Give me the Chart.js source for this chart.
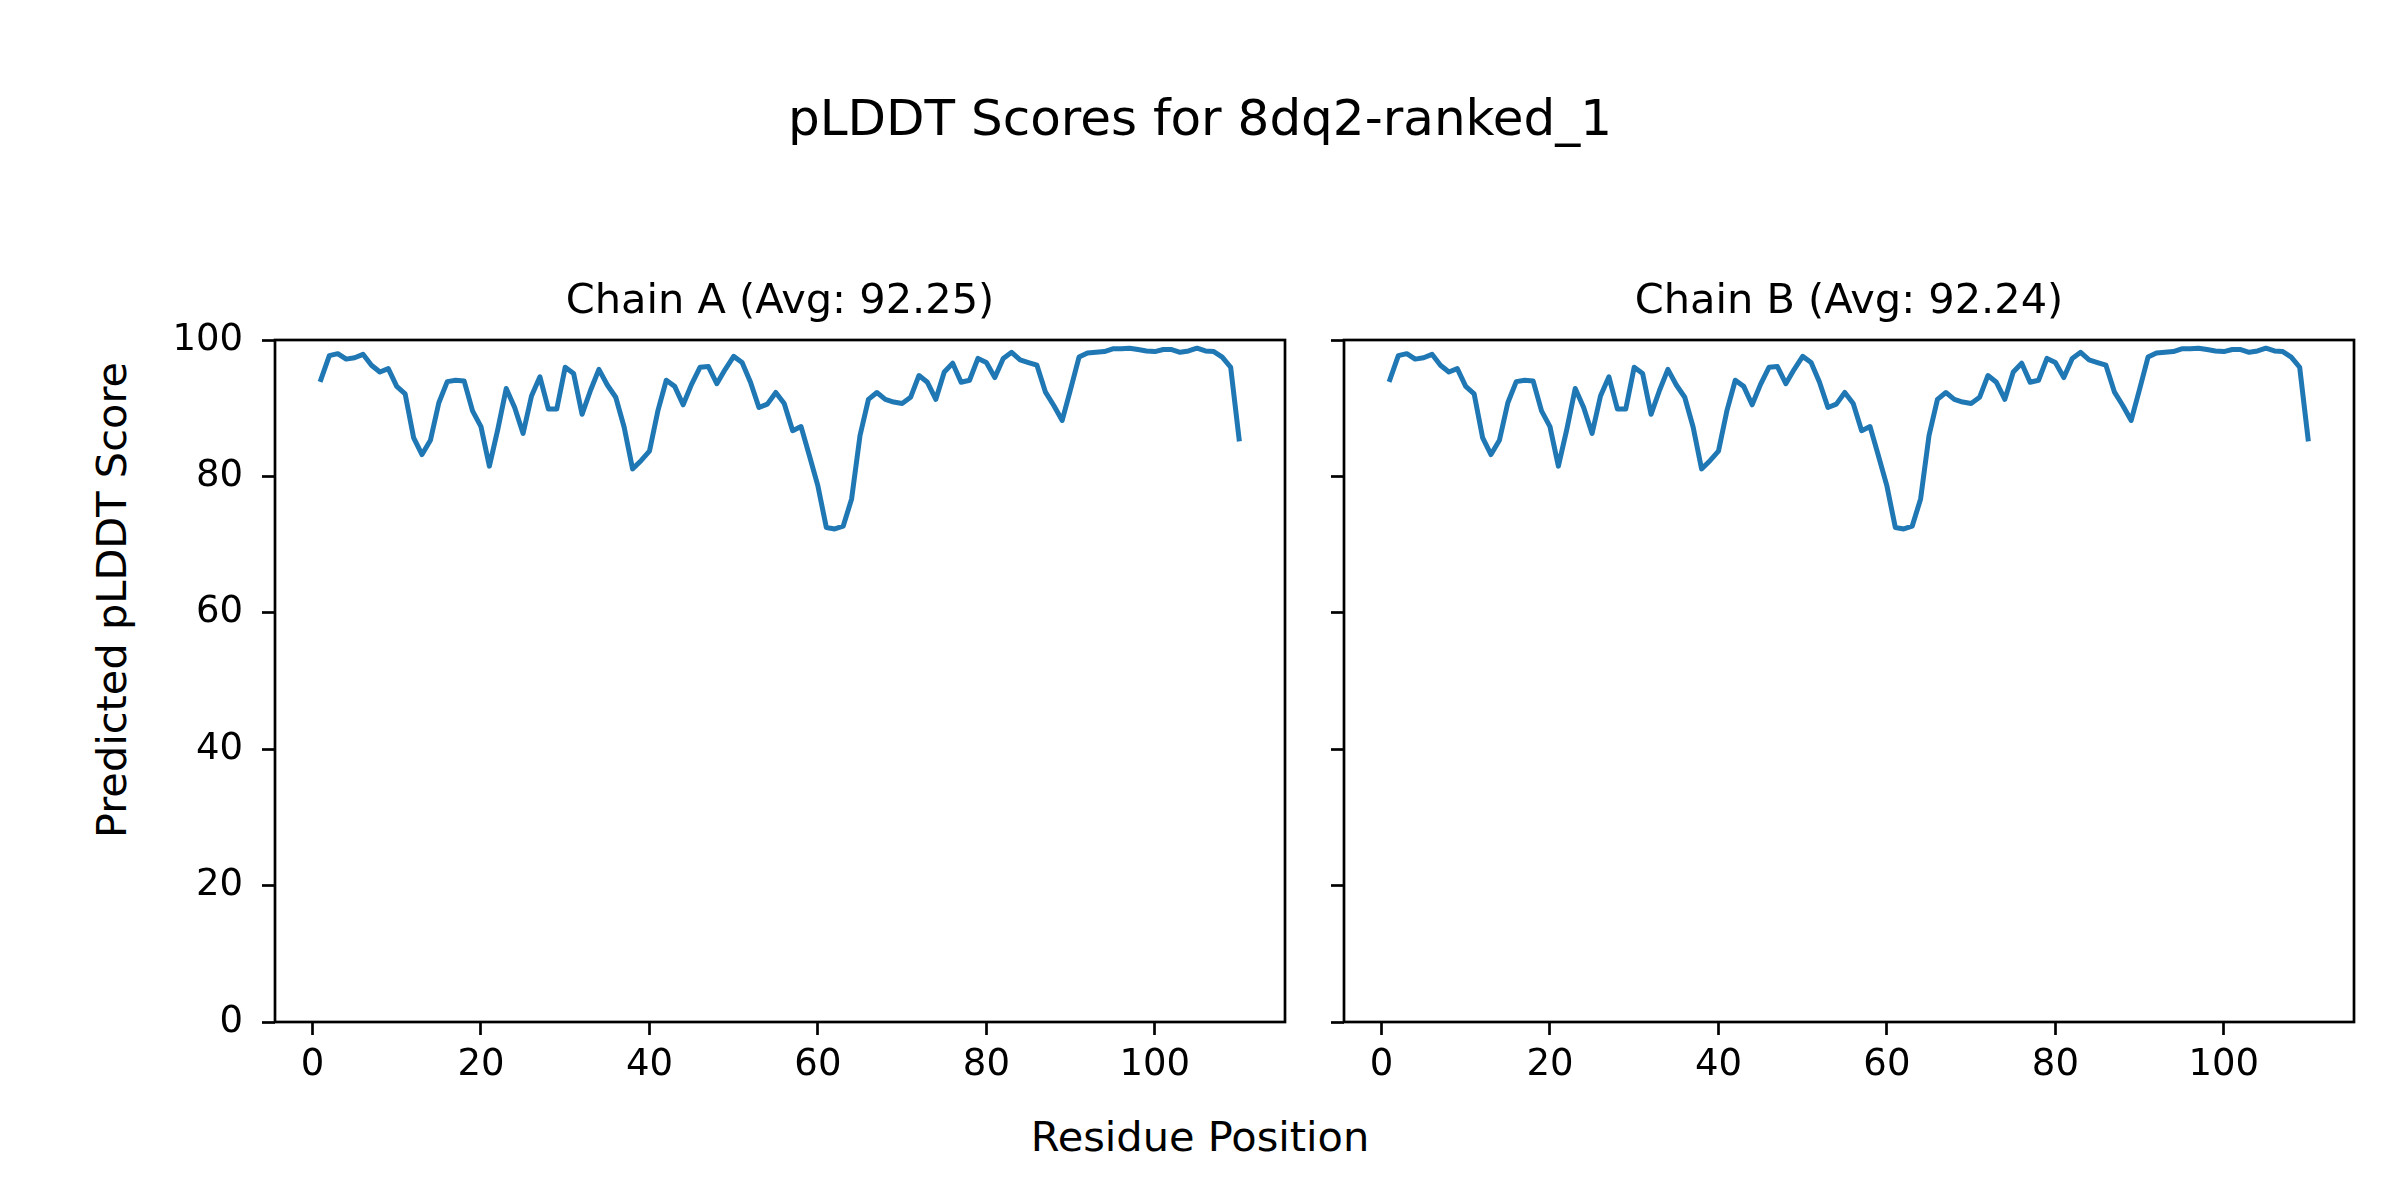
<!DOCTYPE html>
<html>
<head>
<meta charset="utf-8">
<script src="https://cdn.jsdelivr.net/npm/chart.js@4.4.1/dist/chart.umd.min.js"></script>
<style>
  html, body { margin: 0; padding: 0; background: #fff; }
  body { width: 2400px; height: 1200px; position: relative; overflow: hidden; font-family: "DejaVu Sans", sans-serif; color: #000; }
  canvas { position: absolute; }
  .txt { position: absolute; white-space: nowrap; line-height: 1.16; }
  #suptitle { left: 0; width: 2400px; top: 89px; text-align: center; font-size: 50px; }
  #xlab { left: 0; width: 2400px; top: 1113px; text-align: center; font-size: 41.5px; }
  #ylab { left: 112px; top: 600px; font-size: 41.5px; transform: translate(-50%, -50%) rotate(-90deg); }
</style>
</head>
<body>
<div class="txt" id="suptitle">pLDDT Scores for 8dq2-ranked_1</div>
<div class="txt" id="ylab">Predicted pLDDT Score</div>
<div class="txt" id="xlab">Residue Position</div>
<canvas id="chartA" width="1300" height="825" style="left:0px;top:277px"></canvas>
<canvas id="chartB" width="1100" height="825" style="left:1300px;top:277px"></canvas>
<script>
// pLDDT per residue (residues 1..110)
var chainA = [
  94.2, 97.7, 98.0, 97.2, 97.4, 97.9, 96.3, 95.3, 95.8, 93.2,
  92.1, 85.7, 83.2, 85.3, 90.8, 93.9, 94.1, 94.0, 89.6, 87.3,
  81.5, 86.9, 92.9, 90.1, 86.3, 91.8, 94.6, 89.9, 89.9, 96.0,
  95.1, 89.1, 92.6, 95.7, 93.4, 91.6, 87.2, 81.1, 82.3, 83.7,
  89.6, 94.1, 93.2, 90.5, 93.5, 96.0, 96.1, 93.6, 95.7, 97.6,
  96.7, 93.8, 90.1, 90.6, 92.3, 90.7, 86.7, 87.3, 83.0, 78.6,
  72.5, 72.3, 72.7, 76.7, 86.0, 91.3, 92.3, 91.3, 90.9, 90.7,
  91.6, 94.8, 93.8, 91.3, 95.3, 96.6, 93.8, 94.1, 97.3, 96.7,
  94.5, 97.3, 98.2, 97.1, 96.7, 96.3, 92.4, 90.4, 88.2, 92.8,
  97.5, 98.1, 98.2, 98.3, 98.7, 98.7, 98.8, 98.6, 98.4, 98.3,
  98.6, 98.6, 98.2, 98.4, 98.8, 98.4, 98.3, 97.5, 96.0, 85.5
];
var chainB = [
  94.2, 97.7, 98.0, 97.2, 97.4, 97.9, 96.3, 95.3, 95.8, 93.2,
  92.1, 85.7, 83.2, 85.3, 90.8, 93.9, 94.1, 94.0, 89.6, 87.3,
  81.5, 86.9, 92.9, 90.1, 86.3, 91.8, 94.6, 89.9, 89.9, 96.0,
  95.1, 89.1, 92.6, 95.7, 93.4, 91.6, 87.2, 81.1, 82.3, 83.7,
  89.6, 94.1, 93.2, 90.5, 93.5, 96.0, 96.1, 93.6, 95.7, 97.6,
  96.7, 93.8, 90.1, 90.6, 92.3, 90.7, 86.7, 87.3, 83.0, 78.6,
  72.5, 72.3, 72.7, 76.7, 86.0, 91.3, 92.3, 91.3, 90.9, 90.7,
  91.6, 94.8, 93.8, 91.3, 95.3, 96.6, 93.8, 94.1, 97.3, 96.7,
  94.5, 97.3, 98.2, 97.1, 96.7, 96.3, 92.4, 90.4, 88.2, 92.8,
  97.5, 98.1, 98.2, 98.3, 98.7, 98.7, 98.8, 98.6, 98.4, 98.3,
  98.6, 98.6, 98.2, 98.4, 98.8, 98.4, 98.3, 97.5, 96.0, 85.5
];
var titleA = 'Chain A (Avg: 92.25)';
var titleB = 'Chain B (Avg: 92.24)';
var xTicks = [0, 20, 40, 60, 80, 100];
var yTicks = [0, 20, 40, 60, 80, 100];

var FONT = '"DejaVu Sans", sans-serif';

// matplotlib style box around the axes
var spines = {
  id: 'spines',
  afterDatasetsDraw: function(chart) {
    var a = chart.chartArea, c = chart.ctx;
    c.save();
    c.strokeStyle = '#000';
    c.lineWidth = 2.7;
    c.strokeRect(a.left, a.top, a.right - a.left, a.bottom - a.top);
    c.restore();
  }
};

function makeChart(id, values, title, showYLabels, yWidth, padRight) {
  var pts = values.map(function(v, i) { return {x: i + 1, y: v}; });
  return new Chart(document.getElementById(id), {
    type: 'line',
    data: {
      datasets: [{
        data: pts,
        borderColor: '#1f77b4',
        borderWidth: 5,
        pointRadius: 0,
        tension: 0,
        borderJoinStyle: 'round',
        borderCapStyle: 'square'
      }]
    },
    options: {
      responsive: false,
      animation: false,
      devicePixelRatio: 1,
      layout: { padding: { left: 0, right: padRight, top: 0, bottom: 0 } },
      plugins: {
        legend: { display: false },
        tooltip: { enabled: false },
        title: {
          display: true,
          fullSize: false,
          text: title,
          color: '#000',
          font: { family: FONT, size: 41.5, weight: 'normal', lineHeight: 1.2 },
          padding: { top: 0, bottom: 13.2 }
        }
      },
      scales: {
        x: {
          type: 'linear',
          min: -4.45,
          max: 115.45,
          afterBuildTicks: function(s) { s.ticks = xTicks.map(function(v) { return {value: v}; }); },
          afterFit: function(s) { s.height = 80; },
          border: { display: false },
          grid: { display: true, drawOnChartArea: false, drawTicks: true, tickLength: 13, tickWidth: 2.7, tickColor: '#000' },
          ticks: { color: '#000', font: { family: FONT, size: 37 }, padding: 8, maxRotation: 0, autoSkip: false }
        },
        y: {
          min: 0,
          max: 100,
          afterBuildTicks: function(s) { s.ticks = yTicks.map(function(v) { return {value: v}; }); },
          afterFit: function(s) { s.width = yWidth; },
          border: { display: false },
          grid: { display: true, drawOnChartArea: false, drawTicks: true, tickLength: 13, tickWidth: 2.7, tickColor: '#000' },
          ticks: {
            color: '#000', font: { family: FONT, size: 37 }, padding: 19,
            callback: function(v) { return showYLabels ? String(v) : ''; }
          }
        }
      }
    },
    plugins: [spines]
  });
}

makeChart('chartA', chainA, titleA, true, 275, 15);
makeChart('chartB', chainB, titleB, false, 44, 46);
</script>
</body>
</html>
